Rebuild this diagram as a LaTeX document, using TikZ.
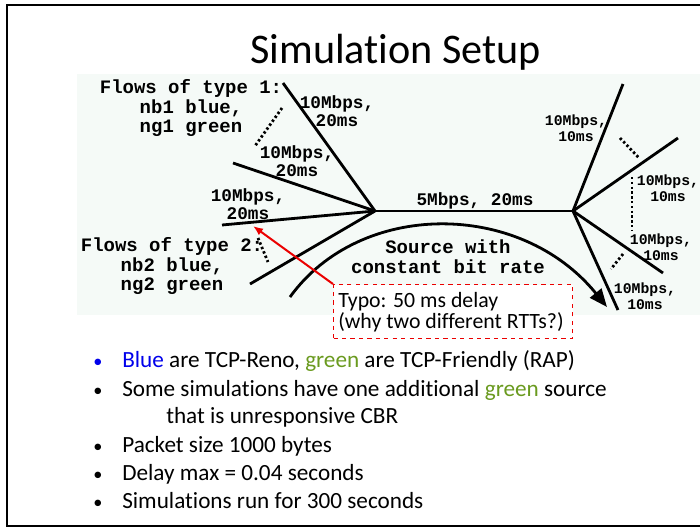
\documentclass[tikz,border=0pt]{standalone}
\usepackage{fontspec}
\setmainfont{Carlito}[Ligatures=NoCommon]
\setmonofont{Liberation Mono}
\usetikzlibrary{arrows.meta}
\definecolor{panelbg}{RGB}{245,250,247}
\definecolor{renoblue}{RGB}{0,0,235}
\definecolor{rapgreen}{RGB}{106,154,31}
\definecolor{typored}{RGB}{235,0,0}
\tikzset{
  link/.style={line width=0.07cm},
  flowdots/.style={line width=0.07cm, dash pattern=on 0.06cm off 0.06cm},
  flowtext/.style={font=\ttfamily\bfseries\fontsize{13.5}{14.2}\selectfont, align=center, inner sep=0pt},
  ratetext/.style={font=\ttfamily\bfseries\fontsize{12.6}{12.8}\selectfont, align=center, inner sep=0pt},
  smallrate/.style={font=\ttfamily\bfseries\fontsize{10.5}{11.3}\selectfont, align=center, inner sep=0pt},
  typotext/.style={font=\fontsize{15.5}{18}\selectfont, anchor=base west, inner sep=0pt},
  bullettext/.style={font=\fontsize{16.5}{19}\selectfont, anchor=base west, inner sep=0pt},
  bulletdot/.style={font=\fontsize{13}{15}\selectfont, anchor=base, inner sep=0pt},
}
\begin{document}
\begin{tikzpicture}[x=0.025cm, y=-0.025cm]
            \useasboundingbox (0,0) rectangle (700,528);
            % slide frame and panel
            \draw [line width=0.05cm] (702,5) -- (7,5) -- (7,526) -- (702,526);
            \fill [panelbg] (77,74) rectangle (700,315);
            \node (title) [anchor=base west, inner sep=0pt, font=\fontsize{30}{36}\selectfont] at (250,63) {Simulation Setup};

            % Marking the two routers
            \coordinate (lhub) at (375,211);
            \coordinate (rhub) at (573,211);

            % Marking the end points of the access links
            \coordinate (la) at (283,83);
            \coordinate (lb) at (233,163);
            \coordinate (lc) at (222,225);
            \coordinate (ld) at (250,284);
            \coordinate (ra) at (623,84);
            \coordinate (rb) at (678,138);
            \coordinate (rc) at (663,273);
            \coordinate (rd) at (618,310);

            % Drawing segment lhub rhub
            \draw [link] (lhub) -- (rhub);
            \node (bottle) [ratetext] at (475,201) {5Mbps, 20ms};

            % Drawing the access links
            \foreach \e in {la,lb,lc,ld} \draw [link] (\e) -- (lhub);
            \foreach \e in {ra,rb,rc,rd} \draw [link] (rhub) -- (\e);

            % Drawing the dotted flow marks
            \draw [flowdots] (282,108) -- (255,146);
            \draw [flowdots] (258,238) -- (268,262);
            \draw [flowdots] (620,138) -- (639,158);
            \draw [flowdots] (632,177) -- (632,230);
            \draw [flowdots] (623,254) -- (611,269);

            % Labels of the flows
            \node (typeone) [flowtext] at (191,108) {Flows of type 1:\\nb1 blue,\\ng1 green};
            \node (typetwo) [flowtext] at (172,266) {Flows of type 2:\\nb2 blue,\\ng2 green};

            % Labels of the access links
            \node (rla) [ratetext] at (337,111) {10Mbps,\\20ms};
            \node (rlb) [ratetext] at (297,161) {10Mbps,\\20ms};
            \node (rlc) [ratetext] at (248,204) {10Mbps,\\20ms};
            \node (rra) [smallrate] at (576,128) {10Mbps,\\10ms};
            \node (rrb) [smallrate] at (668,188) {10Mbps,\\10ms};
            \node (rrc) [smallrate] at (661,247) {10Mbps,\\10ms};
            \node (rrd) [smallrate] at (645,296) {10Mbps,\\10ms};

            % Drawing the constant bit rate source
            \coordinate (cbrstart) at (290,297);
            \coordinate (cbrend) at (607,307);
            \draw [link, -{Triangle[length=0.45cm, width=0.36cm]}] (cbrstart) .. controls (360,200) and (520,200) .. (cbrend);
            \node (cbr) [flowtext] at (448,257) {Source with\\constant bit rate};

            % Marking the typo
            \node (typo) [draw=typored, dashed, line width=0.03cm, fill=white, anchor=north west,
                          minimum width=5.98cm, minimum height=1.35cm] at (333,284) {};
            \node (typoa) [typotext] at (338,307) {Typo: 50 ms delay};
            \node (typob) [typotext] at (338,328) {(why two different RTTs?)};
            \draw [typored, line width=0.05cm, -{Latex[length=0.25cm, width=0.2cm]}] (typo.north west) -- (253,226);

            % Bullets
            \foreach \y/\t in {396/{Some simulations have one additional \textcolor{rapgreen}{green} source},
                               452/{Packet size 1000 bytes},
                               480/{Delay max = 0.04 seconds},
                               508/{Simulations run for 300 seconds}} {
              \node [bulletdot] at (98,\y) {•};
              \node [bullettext] at (122,\y) {\t};
            }
            \node [bulletdot, text=renoblue] at (98,367) {•};
            \node [bullettext] at (122,367) {\textcolor{renoblue}{Blue} are TCP-Reno, \textcolor{rapgreen}{green} are TCP-Friendly (RAP)};
            \node [bullettext] at (166,423) {that is unresponsive CBR};
\end{tikzpicture}
\end{document}
